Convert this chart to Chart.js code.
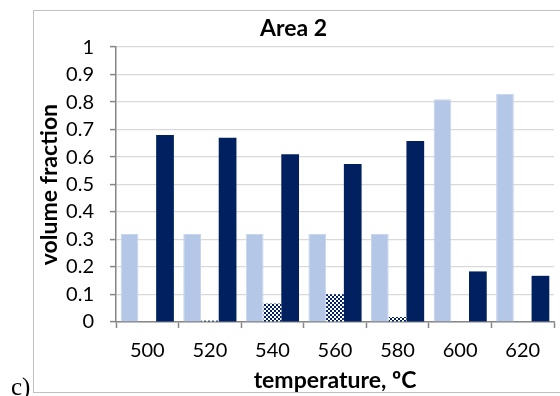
<!DOCTYPE html>
<html lang="en">
<head>
    <meta charset="UTF-8">
    <title>Area 2 - volume fraction vs temperature</title>
    <script src="https://cdn.jsdelivr.net/npm/chart.js"></script>
    <style>
        body { margin: 0; padding: 0; background: #fff; }
        #wrap { position: relative; width: 560px; height: 396px; overflow: hidden; }
        #frame { position: absolute; left: 33px; top: 10px; width: 540px; height: 383px;
                 border: 1px solid #c0c0c0; box-sizing: border-box; }
        #tag { position: absolute; left: 11px; top: 373px; font-family: "Liberation Serif", serif;
               font-size: 25px; color: #000; }
        canvas { position: absolute; left: 0; top: 0; }
    </style>
</head>
<body>

<div id="wrap">
    <div id="frame"></div>
    <canvas id="chart" width="560" height="396"></canvas>
    <div id="tag">c)</div>
</div>

<script>
    // temperatures (ºC) along the x axis
    const temperatures = ['500', '520', '540', '560', '580', '600', '620'];

    // volume fractions per phase
    const lightSeries = [0.32, 0.32, 0.32, 0.32, 0.32, 0.81, 0.83];
    const checkSeries = [0, 0.005, 0.067, 0.101, 0.018, 0, 0];
    const darkSeries  = [0.68, 0.67, 0.61, 0.575, 0.658, 0.184, 0.168];

    const yMin = 0, yMax = 1, yStep = 0.1;

    const NAVY = '#002060';
    const LIGHT = '#b4c7e7';
    const AXIS = '#868686';
    const GRID = '#d9d9d9';
    const FONT = 'Lato, "Open Sans", sans-serif';

    // small navy/white checkerboard fill
    function checkerPattern() {
        var c = document.createElement('canvas');
        c.width = 4; c.height = 4;
        var g = c.getContext('2d');
        g.fillStyle = '#ffffff';
        g.fillRect(0, 0, 4, 4);
        g.fillStyle = NAVY;
        g.fillRect(0, 0, 2, 2);
        g.fillRect(2, 2, 2, 2);
        return document.getElementById('chart').getContext('2d').createPattern(c, 'repeat');
    }

    var ctx = document.getElementById('chart').getContext('2d');
    var chart = new Chart(ctx, {
        type: 'bar',
        data: {
            labels: temperatures,
            datasets: [
                { data: lightSeries, backgroundColor: LIGHT, borderColor: '#c8d5ec', borderWidth: 1 },
                { data: checkSeries, backgroundColor: checkerPattern(), borderWidth: 0 },
                { data: darkSeries, backgroundColor: NAVY, borderWidth: 0 }
            ]
        },
        options: {
            responsive: false,
            animation: false,
            layout: { padding: { left: 33, right: 6, top: 10, bottom: 2 } },
            datasets: { bar: { categoryPercentage: 0.85, barPercentage: 1.0 } },
            plugins: {
                legend: { display: false },
                tooltip: { enabled: false },
                title: {
                    display: true,
                    text: 'Area 2',
                    color: '#000',
                    font: { family: FONT, size: 23, weight: 'bold' },
                    padding: { top: 5, bottom: 4.5 }
                }
            },
            scales: {
                x: {
                    grid: { offset: true, drawOnChartArea: false, drawTicks: true, tickLength: 6, tickColor: AXIS, tickWidth: 1.5 },
                    border: { color: AXIS, width: 1.5 },
                    ticks: { color: '#000', font: { family: FONT, size: 20 }, padding: 11, maxRotation: 0 },
                    title: {
                        display: true,
                        text: 'temperature, ºC',
                        color: '#000',
                        font: { family: FONT, size: 23, weight: 'bold' },
                        padding: { top: 0, bottom: 0 }
                    },
                    afterFit: function (scale) { scale.height = 72; }
                },
                y: {
                    min: yMin,
                    max: yMax,
                    ticks: {
                        stepSize: yStep,
                        color: '#000',
                        font: { family: FONT, size: 20 },
                        padding: 16,
                        callback: function (v) { return String(Math.round(v * 10) / 10); }
                    },
                    grid: { color: GRID, lineWidth: 1.2, tickColor: AXIS, tickLength: 6, tickWidth: 1.5 },
                    border: { color: AXIS, width: 1.5 },
                    title: {
                        display: true,
                        text: 'volume fraction',
                        color: '#000',
                        font: { family: FONT, size: 23, weight: 'bold' },
                        padding: { top: 3, bottom: 0 }
                    },
                    afterFit: function (scale) { scale.width = 83; }
                }
            }
        }
    });
</script>

</body>
</html>
